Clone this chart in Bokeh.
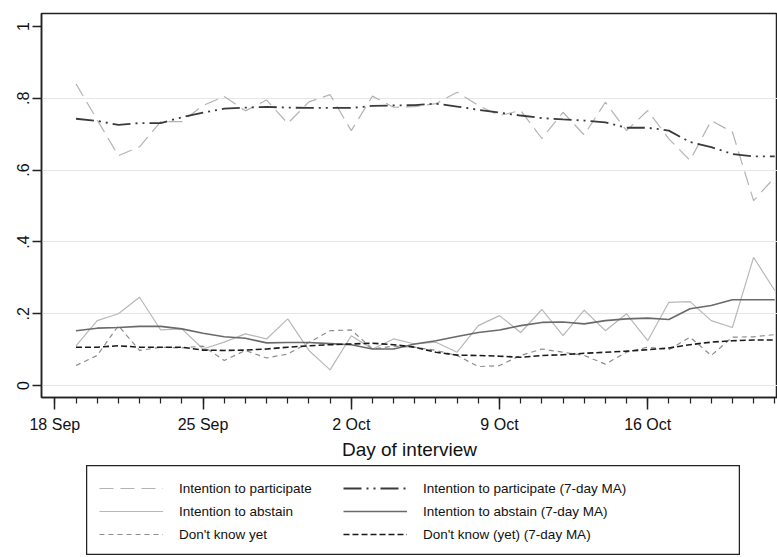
import pandas as pd
from bokeh.plotting import figure
from bokeh.layouts import column, row
from bokeh.models import (FixedTicker, Range1d, Legend, LegendItem, ColumnDataSource, Spacer)
from bokeh.embed import file_html
from bokeh.resources import INLINE

# ---- data ----
dates = pd.date_range("2017-09-19", "2017-10-22", freq="D")

participate = [0.84, 0.74, 0.64, 0.665, 0.735, 0.735, 0.78, 0.805, 0.765, 0.795, 0.73, 0.79,
               0.81, 0.71, 0.806, 0.775, 0.777, 0.785, 0.817, 0.78, 0.752, 0.766, 0.688, 0.761,
               0.698, 0.789, 0.71, 0.766, 0.687, 0.627, 0.738, 0.706, 0.515, 0.58]
participate_ma = [0.743, 0.737, 0.726, 0.731, 0.731, 0.747, 0.76, 0.771, 0.774, 0.776, 0.774, 0.773,
                  0.773, 0.773, 0.779, 0.78, 0.781, 0.785, 0.777, 0.768, 0.76, 0.752, 0.745, 0.741,
                  0.738, 0.733, 0.718, 0.718, 0.71, 0.678, 0.664, 0.645, 0.638, 0.638]
abstain = [0.111, 0.181, 0.2, 0.246, 0.155, 0.158, 0.102, 0.121, 0.144, 0.13, 0.186, 0.098,
           0.044, 0.139, 0.102, 0.13, 0.116, 0.121, 0.093, 0.167, 0.195, 0.148, 0.212, 0.139,
           0.21, 0.153, 0.2, 0.125, 0.232, 0.234, 0.181, 0.162, 0.357, 0.265]
abstain_ma = [0.153, 0.16, 0.162, 0.165, 0.165, 0.158, 0.146, 0.136, 0.132, 0.119, 0.12, 0.12,
              0.117, 0.114, 0.102, 0.102, 0.116, 0.125, 0.137, 0.148, 0.155, 0.167, 0.176, 0.177,
              0.172, 0.181, 0.186, 0.188, 0.184, 0.214, 0.223, 0.239, 0.239, 0.239]
dontknow = [0.056, 0.084, 0.167, 0.098, 0.107, 0.105, 0.11, 0.07, 0.098, 0.077, 0.088, 0.12,
            0.153, 0.155, 0.102, 0.11, 0.107, 0.098, 0.084, 0.053, 0.056, 0.084, 0.102, 0.093,
            0.084, 0.06, 0.093, 0.107, 0.1, 0.135, 0.084, 0.135, 0.136, 0.142]
dontknow_ma = [0.107, 0.107, 0.111, 0.107, 0.107, 0.107, 0.099, 0.098, 0.099, 0.102, 0.107, 0.111,
               0.114, 0.116, 0.118, 0.114, 0.107, 0.093, 0.085, 0.084, 0.082, 0.079, 0.084, 0.086,
               0.09, 0.093, 0.096, 0.1, 0.105, 0.114, 0.121, 0.125, 0.127, 0.127]

x_tick_dates = ["2017-09-18", "2017-09-25", "2017-10-02", "2017-10-09", "2017-10-16"]
x_tick_labels = ["18 Sep", "25 Sep", "2 Oct", "9 Oct", "16 Oct"]
y_ticks = [0, 0.2, 0.4, 0.6, 0.8, 1.0]
y_tick_labels = ["0", ".2", ".4", ".6", ".8", "1"]

labels = ["Intention to participate", "Intention to abstain", "Don't know yet",
          "Intention to participate (7-day MA)", "Intention to abstain (7-day MA)",
          "Don't know (yet) (7-day MA)"]

FONT = "Liberation Sans"
DAY = 86400000.0

styles = [
    dict(line_color="#b3b3b3", line_width=1.2, line_dash="14 7"),
    dict(line_color="#b8b8b8", line_width=1.2),
    dict(line_color="#8c8c8c", line_width=1.2, line_dash="5 4"),
    dict(line_color="#3a3a3a", line_width=1.8, line_dash="18 5 2 5 2 5"),
    dict(line_color="#6a6a6a", line_width=1.6),
    dict(line_color="#1a1a1a", line_width=1.6, line_dash="6 3"),
]


def ms(d):
    return pd.Timestamp(d).value / 1e6


src = ColumnDataSource(dict(x=[ms(d) for d in dates], p=participate, a=abstain, d=dontknow,
                            pma=participate_ma, ama=abstain_ma, dma=dontknow_ma))

x0 = ms("2017-09-18") - 0.63 * DAY
x1 = ms("2017-10-22") + 0.13 * DAY

p = figure(width=777, height=465, x_axis_type="datetime", output_backend="svg",
           toolbar_location=None, x_range=Range1d(x0, x1), y_range=Range1d(-0.033, 1.036))
p.min_border_left = 41
p.min_border_top = 13
p.min_border_right = 0
p.min_border_bottom = 68
p.background_fill_color = "white"
p.border_fill_color = "white"
p.outline_line_color = "#222222"
p.outline_line_width = 1.5

for col, st in zip(["p", "a", "d", "pma", "ama", "dma"], styles):
    p.line("x", col, source=src, **st)

# x axis
major = [ms(d) for d in x_tick_dates]
minor = [ms(d) for d in pd.date_range("2017-09-18", "2017-10-22", freq="D")]
xa = p.xaxis[0]
xa.ticker = FixedTicker(ticks=major, minor_ticks=minor)
xa.major_label_overrides = {m: l for m, l in zip(major, x_tick_labels)}
xa.axis_label = "Day of interview"
xa.axis_label_text_font = FONT
xa.axis_label_text_font_style = "normal"
xa.axis_label_text_font_size = "19px"
xa.axis_label_text_color = "#111111"
xa.axis_label_standoff = 3
xa.major_label_text_font = FONT
xa.major_label_text_font_size = "16px"
xa.major_label_text_color = "#111111"
xa.major_label_standoff = 6
xa.major_tick_out = 12
xa.major_tick_in = 0
xa.minor_tick_out = 6
xa.minor_tick_in = 0
xa.axis_line_color = "#222222"
xa.axis_line_width = 1.5
xa.major_tick_line_color = "#222222"
xa.major_tick_line_width = 1.5
xa.minor_tick_line_color = "#222222"
xa.minor_tick_line_width = 1.2

# y axis
ya = p.yaxis[0]
ya.ticker = FixedTicker(ticks=y_ticks, minor_ticks=[])
ya.major_label_overrides = {t: l for t, l in zip(y_ticks, y_tick_labels)}
ya.major_label_orientation = "vertical"
ya.major_label_text_font = FONT
ya.major_label_text_font_size = "16px"
ya.major_label_text_color = "#111111"
ya.major_label_standoff = 3
ya.major_tick_out = 9
ya.major_tick_in = 0
ya.axis_line_color = "#222222"
ya.axis_line_width = 1.5
ya.major_tick_line_color = "#222222"
ya.major_tick_line_width = 1.5

p.xgrid.visible = False
p.ygrid.ticker = FixedTicker(ticks=[0, 0.2, 0.4, 0.6, 0.8])
p.ygrid.grid_line_color = "#e6e6e6"
p.ygrid.grid_line_width = 1.2

# ---- legend box (separate panel, keys styled like the series) ----
lg = figure(width=654, height=90, output_backend="svg", toolbar_location=None,
            x_axis_location=None, y_axis_location=None, x_range=Range1d(0, 1),
            y_range=Range1d(0, 1), min_border=0)
lg.grid.visible = False
lg.outline_line_color = "#222222"
lg.outline_line_width = 1.5
lg.background_fill_color = "white"
keys = [lg.line(x=[5, 6], y=[5, 6], **st) for st in styles]
legend = Legend(items=[LegendItem(label=l, renderers=[r]) for l, r in zip(labels, keys)],
                ncols=2, orientation="vertical", location="top_left")
legend.label_text_font = FONT
legend.label_text_font_size = "13.5px"
legend.label_text_color = "#111111"
legend.glyph_width = 64
legend.glyph_height = 20
legend.label_height = 20
legend.label_width = 161
legend.label_standoff = 16
legend.spacing = 3
legend.padding = 13
legend.margin = 0
legend.border_line_alpha = 0
legend.background_fill_alpha = 0
lg.add_layout(legend, "center")

layout = column(p, row(Spacer(width=86, height=90), lg), spacing=0)
open("out.html", "w").write(file_html(layout, INLINE))
